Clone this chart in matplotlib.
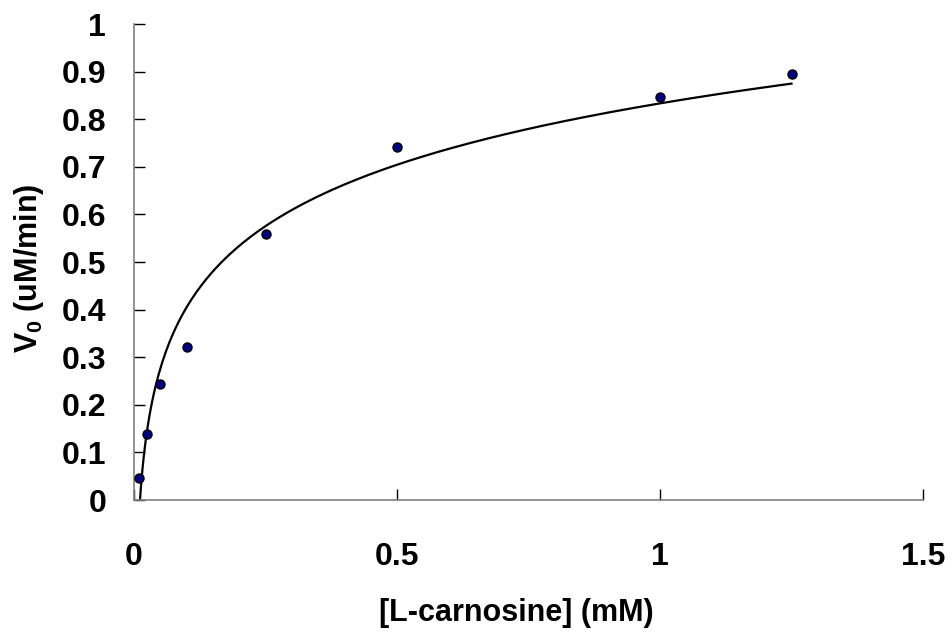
import numpy as np
import matplotlib
matplotlib.use("Agg")
import matplotlib.pyplot as plt
from matplotlib.ticker import FuncFormatter

# Data
conc_mM = [0.01, 0.025, 0.05, 0.1, 0.25, 0.5, 1.0, 1.25]
v0 = [0.047, 0.138, 0.244, 0.321, 0.558, 0.742, 0.847, 0.895]
x_ticks = [0, 0.5, 1, 1.5]
y_ticks = [0, 0.1, 0.2, 0.3, 0.4, 0.5, 0.6, 0.7, 0.8, 0.9, 1.0]

plt.rcParams['font.family'] = ['Liberation Sans', 'DejaVu Sans']
plt.rcParams['font.weight'] = 'bold'
plt.rcParams['mathtext.fontset'] = 'custom'
plt.rcParams['mathtext.rm'] = 'Liberation Sans:bold'
plt.rcParams['mathtext.it'] = 'Liberation Sans:bold'
plt.rcParams['mathtext.bf'] = 'Liberation Sans:bold'

fig = plt.figure(figsize=(9.52, 6.32), dpi=100)
ax = fig.add_axes([134/952, 1-500/632, (923-134)/952, (500-24)/632])

# Logarithmic trendline (least-squares fit as in a spreadsheet trendline)
a, b = np.polyfit(np.log(conc_mM), v0, 1)
xs = np.linspace(min(conc_mM), max(conc_mM), 400)
ax.plot(xs, a*np.log(xs) + b, color='black', lw=1.6, zorder=2)

ax.plot(conc_mM, v0, 'o', ms=6.5, mfc='#000080', mec='black', mew=1.0, zorder=3, clip_on=False)

ax.set_xlim(0, 1.5)
ax.set_ylim(0, 1)
ax.set_xticks(x_ticks)
ax.set_yticks(y_ticks)
fmt = FuncFormatter(lambda v, p: f"{v:g}")
ax.xaxis.set_major_formatter(fmt)
ax.yaxis.set_major_formatter(fmt)

for s in ['top', 'right']:
    ax.spines[s].set_visible(False)
for s in ['left', 'bottom']:
    ax.spines[s].set_color('#808080')
    ax.spines[s].set_linewidth(1.2)

ax.tick_params(axis='both', direction='in', length=8, width=1, color='black', labelsize=23)
ax.tick_params(axis='y', pad=20)
ax.tick_params(axis='x', pad=30)
for lab in ax.get_xticklabels() + ax.get_yticklabels():
    lab.set_fontweight('bold')

ax.set_xlabel('[L-carnosine] (mM)', fontsize=22, fontweight='bold')
ax.set_ylabel('V$_0$ (uM/min)', fontsize=22, fontweight='bold')
ax.xaxis.set_label_coords(0.484, -0.205)
ax.yaxis.set_label_coords(-0.112, 0.487)

fig.savefig('out.png', dpi=100)
